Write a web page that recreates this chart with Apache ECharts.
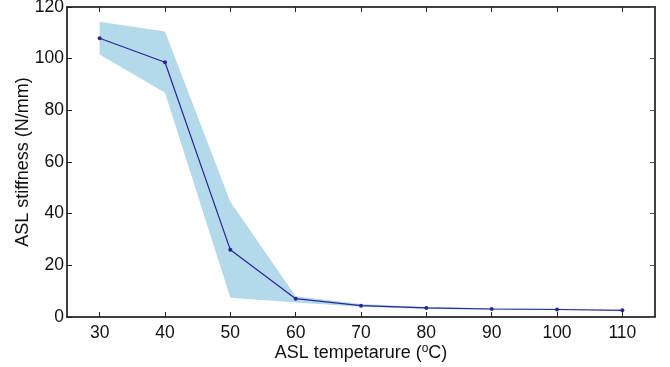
<!DOCTYPE html>
<html>
<head>
<meta charset="utf-8">
<script src="https://cdn.jsdelivr.net/npm/echarts@6/dist/echarts.min.js"></script>
<style>html,body{margin:0;padding:0;background:#fff}#c{width:670px;height:367px}</style>
</head>
<body>
<div id="c"></div>
<script>
var temps = ['30', '40', '50', '60', '70', '80', '90', '100', '110'];
var stiffness = [107.9, 98.6, 26.0, 7.1, 4.4, 3.5, 3.1, 2.9, 2.6];
var upperBound = [114.3, 110.5, 44.6, 8.0, 5.0, 3.9, 3.4, 3.2, 2.9];
var lowerBound = [101.6, 86.8, 7.5, 5.6, 4.0, 3.1, 2.8, 2.7, 2.3];
var yTicks = [0, 20, 40, 60, 80, 100, 120];

var font = 'Liberation Sans, Arial, Helvetica, sans-serif';
var chart = echarts.init(document.getElementById('c'), null, {renderer: 'canvas'});
var diffData = upperBound.map(function (u, i) { return u - lowerBound[i]; });

var axisLine = {show: true, onZero: false, lineStyle: {color: '#000', width: 1.5}};
chart.setOption({
  animation: false,
  grid: {left: 67, right: 15, top: 7, bottom: 50, containLabel: false, outerBoundsMode: 'none'},
  xAxis: [{
    type: 'category', data: temps, boundaryGap: true, position: 'bottom',
    axisLine: axisLine,
    axisTick: {show: true, inside: true, length: 5, alignWithLabel: true, lineStyle: {color: '#222', width: 1}},
    axisLabel: {color: '#111', fontSize: 17.5, fontFamily: font, margin: 7, interval: 0},
    splitLine: {show: false},
    name: 'ASL tempetarure ({sup|o}C)',
    nameLocation: 'middle', nameGap: 26, nameMoveOverlap: false,
    nameTextStyle: {color: '#111', fontSize: 18, fontFamily: font, verticalAlign: 'top', lineHeight: 20,
      rich: {sup: {fontSize: 12, lineHeight: 12, fontFamily: font, color: '#111', verticalAlign: 'top', padding: [0, 0, 0, 0]}}}
  }, {
    type: 'category', data: temps, boundaryGap: true, position: 'top',
    axisLine: axisLine,
    axisTick: {show: true, inside: true, length: 5, alignWithLabel: true, lineStyle: {color: '#222', width: 1}},
    axisLabel: {show: false},
    splitLine: {show: false}
  }],
  yAxis: [{
    type: 'value', min: 0, max: 120, interval: 20, position: 'left',
    axisLine: axisLine,
    axisTick: {show: true, inside: true, length: 5, lineStyle: {color: '#222', width: 1}},
    axisLabel: {color: '#111', fontSize: 17.5, fontFamily: font, margin: 3},
    splitLine: {show: false},
    name: 'ASL stiffness (N/mm)',
    nameLocation: 'middle', nameGap: 35, nameMoveOverlap: false,
    nameTextStyle: {color: '#111', fontSize: 18, fontFamily: font}
  }, {
    type: 'value', min: 0, max: 120, interval: 20, position: 'right',
    axisLine: axisLine,
    axisTick: {show: true, inside: true, length: 5, lineStyle: {color: '#555', width: 1}},
    axisLabel: {show: false},
    splitLine: {show: false}
  }],
  series: [{
    type: 'line', data: lowerBound, stack: 'band', symbol: 'none',
    lineStyle: {opacity: 0}, silent: true, z: 1
  }, {
    type: 'line', data: diffData, stack: 'band', symbol: 'none',
    lineStyle: {opacity: 0}, areaStyle: {color: '#b3d9ea', opacity: 1}, silent: true, z: 1
  }, {
    type: 'line', data: stiffness, symbol: 'circle', symbolSize: 4,
    itemStyle: {color: '#262696'}, lineStyle: {color: '#262696', width: 1.2}, z: 3
  }]
});
</script>
</body>
</html>
